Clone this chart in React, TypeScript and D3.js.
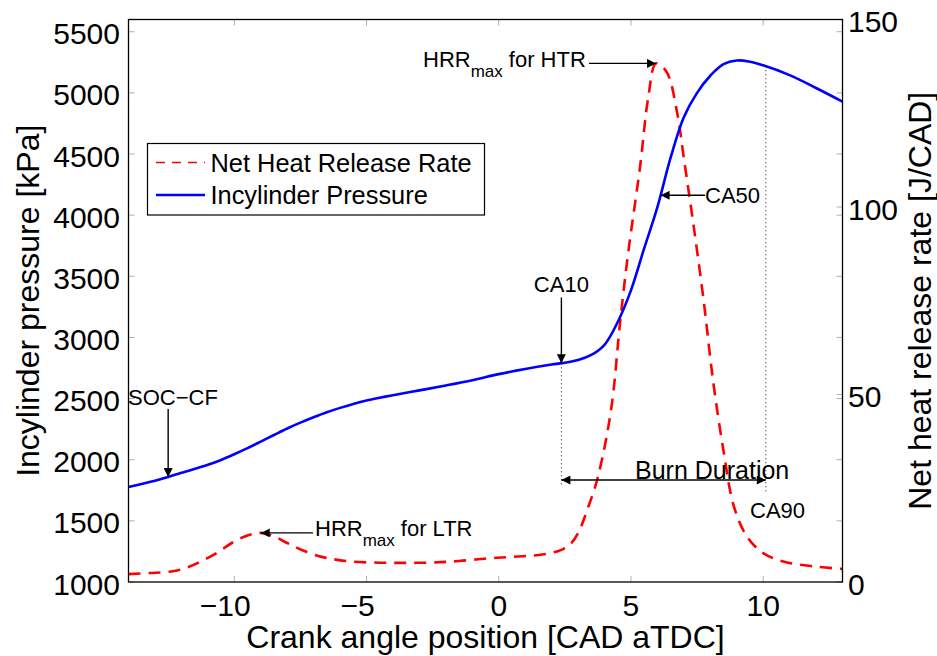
import React from 'react';
import * as d3 from 'd3';

// Crank angle positions [CAD aTDC] and in-cylinder pressure [kPa]
const cadP = [-14, -13, -12.5, -12, -11, -10.5, -10, -9.5, -9, -8.5, -8, -7.5, -7, -6.5, -6, -5.5, -5, -4.5, -4, -3, -2, -1, 0, 1, 2, 2.4, 3, 3.5, 4, 4.5, 5, 5.5, 6, 6.5, 7, 7.5, 8, 8.5, 9, 9.5, 10, 11, 12, 13];
const pressure = [1777, 1828, 1859, 1893, 1958, 1998, 2045, 2095, 2148, 2202, 2255, 2303, 2347, 2388, 2424, 2456, 2484, 2507, 2528, 2567, 2607, 2650, 2700, 2742, 2778, 2790, 2815, 2857, 2940, 3126, 3385, 3728, 4065, 4470, 4800, 5000, 5140, 5235, 5265, 5255, 5225, 5145, 5040, 4928];

// Net heat release rate [J/CAD]
const cadH = [-14, -13.2, -12.4, -11.8, -11.15, -10.6, -10.1, -9.5, -9.0, -8.5, -8.0, -7.4, -6.7, -6.1, -5.5, -4.5, -3.5, -2.5, -1.5, -0.4, 0.5, 1.5, 2.0, 2.35, 2.7, 3.0, 3.35, 3.75, 4.25, 4.6, 4.9, 5.35, 5.65, 5.95, 6.35, 6.75, 7.0, 7.35, 7.75, 8.1, 8.5, 8.9, 9.4, 10.0, 10.8, 12.0, 13.0];
const hrr = [2.1, 2.4, 2.8, 3.8, 5.9, 8.0, 10.4, 12.4, 13.1, 12.2, 10.4, 8.4, 6.7, 5.9, 5.4, 5.15, 5.1, 5.2, 5.6, 6.3, 6.7, 7.2, 7.8, 8.5, 10.0, 13.0, 19.3, 28, 46, 70, 88, 111, 129, 138.3, 136, 125, 113, 96, 75, 54, 35, 20, 12, 7.7, 5.4, 4.1, 3.5];

const xTicks = [-10, -5, 0, 5, 10];
const yLeftTicks = [1000, 1500, 2000, 2500, 3000, 3500, 4000, 4500, 5000, 5500];
const yRightTicks = [0, 50, 100, 150];

const legendLabels = ['Net Heat Release Rate', 'Incylinder Pressure'];

// event markers [CAD]
const SOC_CF = -12.5;
const CA10 = 2.37;
const CA50 = 6.12;
const CA90 = 10.1;
const LTR_PEAK = -9.0;
const HTR_PEAK = 5.95;

const FONT = '"Liberation Sans", Arial, Helvetica, sans-serif';

function interp(xs: number[], ys: number[], v: number) {
  for (let i = 0; i < xs.length - 1; i++) {
    if (v >= xs[i] && v <= xs[i + 1]) {
      const t = (v - xs[i]) / (xs[i + 1] - xs[i]);
      return ys[i] + t * (ys[i + 1] - ys[i]);
    }
  }
  return ys[ys.length - 1];
}

export default function App() {
  const W = 937, H = 656;
  const L = 128.5, R = 842.5, T = 19.5, B = 582;
  const x = d3.scaleLinear().domain([-14, 13]).range([L, R]);
  const yL = d3.scaleLinear().domain([1000, 5600]).range([B, T]);
  const yR = d3.scaleLinear().domain([0, 150]).range([B, T]);

  const pLine = d3.line<number>().x((_, i) => x(cadP[i])).y(d => yL(d)).curve(d3.curveCatmullRom.alpha(0.5));
  const hLine = d3.line<number>().x((_, i) => x(cadH[i])).y(d => yR(d)).curve(d3.curveCatmullRom.alpha(0.5));

  const fmt = (v: number) => (v < 0 ? '\u2212' + Math.abs(v) : String(v));

  const socX = x(SOC_CF), socY = yL(interp(cadP, pressure, SOC_CF));
  const ca10X = x(CA10), ca10Y = yL(interp(cadP, pressure, CA10));
  const ca50X = x(CA50), ca50Y = yL(interp(cadP, pressure, CA50));
  const ca90X = x(CA90), ca90Y = yL(interp(cadP, pressure, CA90));
  const ltrX = x(LTR_PEAK), ltrY = yR(interp(cadH, hrr, LTR_PEAK));
  const htrX = x(HTR_PEAK), htrY = yR(interp(cadH, hrr, HTR_PEAK));
  const bdY = yR(27.2);

  const tickCol = '#b0b0b0';

  return (
    <svg width={W} height={H} style={{ position: 'absolute', left: 0, top: 0, background: '#fff' }} fontFamily={FONT}>
      <defs>
        <marker id="ah" viewBox="0 0 10 10" refX="10" refY="5" markerWidth="10" markerHeight="9" markerUnits="userSpaceOnUse" orient="auto-start-reverse">
          <path d="M0,0 L10,5 L0,10 z" fill="#000" />
        </marker>
        <clipPath id="plotclip">
          <rect x={L} y={T} width={R - L} height={B - T} />
        </clipPath>
      </defs>
      <rect x={0} y={0} width={W} height={H} fill="#fff" />

      {/* ticks */}
      {yLeftTicks.map(t => (
        <g key={'ylt' + t}>
          <line x1={L} x2={L + 6} y1={yL(t)} y2={yL(t)} stroke={tickCol} />
          <line x1={R} x2={R - 6} y1={yL(t)} y2={yL(t)} stroke={tickCol} />
          <text x={120} y={yL(t) + 12.5} fontSize={30} textAnchor="end">{t}</text>
        </g>
      ))}
      {yRightTicks.map(t => (
        <g key={'yrt' + t}>
          <line x1={R} x2={R - 6} y1={yR(t)} y2={yR(t)} stroke={tickCol} />
          <text x={848} y={yR(t) + 12.5} fontSize={30} textAnchor="start">{t}</text>
        </g>
      ))}
      {xTicks.map(t => (
        <g key={'xt' + t}>
          <line x1={x(t)} x2={x(t)} y1={B} y2={B - 6} stroke={tickCol} />
          <line x1={x(t)} x2={x(t)} y1={T} y2={T + 6} stroke={tickCol} />
          <text x={x(t) + (t < 0 ? -9 : 0)} y={616} fontSize={30} textAnchor="middle">{fmt(t)}</text>
        </g>
      ))}

      {/* dotted guide lines */}
      <line x1={ca10X} x2={ca10X} y1={ca10Y} y2={yR(25.3)} stroke="#333" strokeWidth={1.1} strokeDasharray="1,3" />
      <line x1={ca90X} x2={ca90X} y1={ca90Y} y2={yR(24)} stroke="#333" strokeWidth={1.1} strokeDasharray="1,3" />

      {/* series */}
      <g clipPath="url(#plotclip)">
        <path d={hLine(hrr) || ''} fill="none" stroke="#ff0000" strokeWidth={2.6} strokeDasharray="12,8" />
        <path d={pLine(pressure) || ''} fill="none" stroke="#0000ff" strokeWidth={2.6} />
      </g>

      {/* axes box */}
      <rect x={L} y={T} width={R - L} height={B - T} fill="none" stroke="#000" strokeWidth={1.3} />

      {/* annotations */}
      <text x={128} y={405} fontSize={22}>SOC{'\u2212'}CF</text>
      <line x1={socX} x2={socX} y1={409} y2={socY} stroke="#000" strokeWidth={1.4} markerEnd="url(#ah)" />

      <text x={ca10X} y={292} fontSize={22} textAnchor="middle">CA10</text>
      <line x1={ca10X} x2={ca10X} y1={297.5} y2={ca10Y} stroke="#000" strokeWidth={1.4} markerEnd="url(#ah)" />

      <text x={705} y={203} fontSize={22}>CA50</text>
      <line x1={705} x2={ca50X} y1={ca50Y} y2={ca50Y} stroke="#000" strokeWidth={1.4} markerEnd="url(#ah)" />

      <text x={750} y={518} fontSize={22}>CA90</text>

      <line x1={ca10X} x2={ca90X} y1={bdY} y2={bdY} stroke="#000" strokeWidth={1.4} markerStart="url(#ah)" markerEnd="url(#ah)" />
      <text x={635} y={479} fontSize={25}>Burn Duration</text>

      <text x={423} y={67} fontSize={22}>HRR<tspan fontSize={17} dy={10}>max</tspan><tspan dy={-10} dx={6}>for HTR</tspan></text>
      <line x1={589} x2={htrX} y1={htrY} y2={htrY} stroke="#000" strokeWidth={1.4} markerEnd="url(#ah)" />

      <text x={315} y={536} fontSize={22}>HRR<tspan fontSize={17} dy={10}>max</tspan><tspan dy={-10} dx={6}>for LTR</tspan></text>
      <line x1={313} x2={ltrX} y1={ltrY} y2={ltrY} stroke="#000" strokeWidth={1.4} markerEnd="url(#ah)" />

      {/* legend */}
      <rect x={147.5} y={143.5} width={337} height={71.5} fill="#fff" stroke="#000" strokeWidth={1.2} />
      <line x1={156} x2={205} y1={162.5} y2={162.5} stroke="#ff0000" strokeWidth={1.5} strokeDasharray="9,7" />
      <text x={210.5} y={171.5} fontSize={25.4}>{legendLabels[0]}</text>
      <line x1={156} x2={205} y1={195} y2={195} stroke="#0000ff" strokeWidth={2.6} />
      <text x={210.5} y={204} fontSize={25.4}>{legendLabels[1]}</text>

      {/* axis labels */}
      <text x={(L + R) / 2} y={648} fontSize={32} textAnchor="middle">Crank angle position [CAD aTDC]</text>
      <text transform={`translate(39,${(T + B) / 2}) rotate(-90)`} fontSize={32} textAnchor="middle">Incylinder pressure [kPa]</text>
      <text transform={`translate(931,${(T + B) / 2}) rotate(-90)`} fontSize={32} textAnchor="middle">Net heat release rate [J/CAD]</text>
    </svg>
  );
}
